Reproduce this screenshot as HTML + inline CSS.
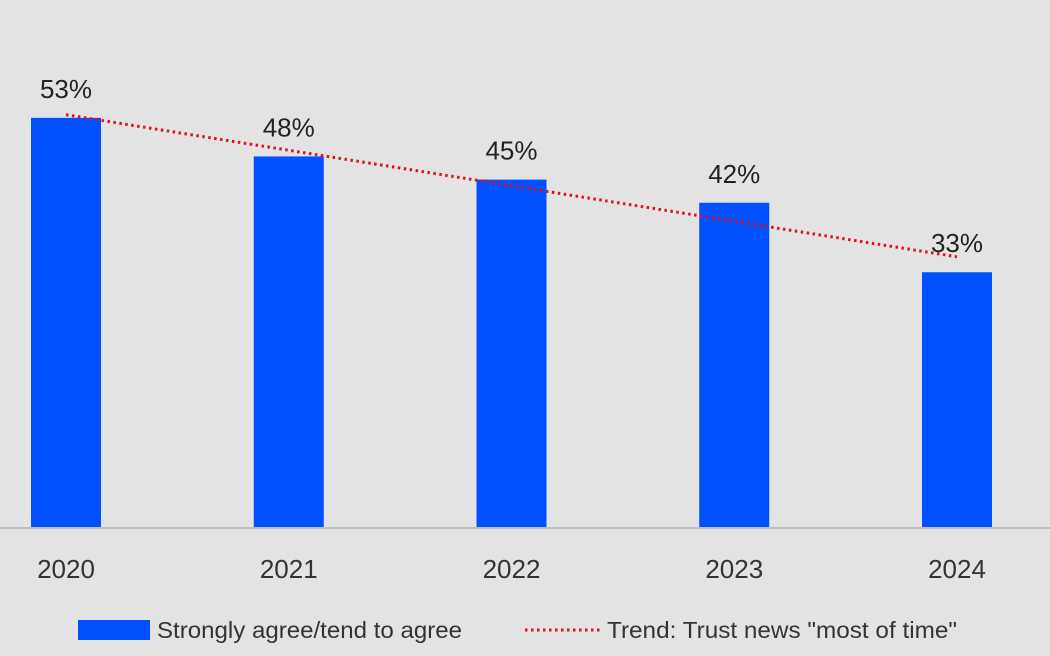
<!DOCTYPE html>
<html><head><meta charset="utf-8"><style>
html,body{margin:0;padding:0;background:#e3e3e3;}
svg{display:block;font-family:"Liberation Sans",sans-serif;}
</style></head><body>
<svg id="chart" width="1050" height="656" viewBox="0 0 1050 656">
<rect width="1050" height="656" fill="#e3e3e3"/>
<line x1="0" y1="528" x2="1050" y2="528" stroke="#bdbdbd" stroke-width="2"/>
<g id="bars"></g><g id="labels"></g><g id="ticks"></g>
<polyline id="trend" fill="none" stroke="#e0101a" stroke-width="3" stroke-dasharray="2.5,3.5"/>
<g>
<rect x="78" y="620" width="72" height="20" fill="#0050ff"/>
<text x="157" y="638" font-size="23" fill="#333" textLength="305" lengthAdjust="spacingAndGlyphs">Strongly agree/tend to agree</text>
<line x1="525" y1="630" x2="600" y2="630" stroke="#e0101a" stroke-width="3" stroke-dasharray="2.5,3.5"/>
<text x="607" y="638" font-size="23" fill="#333" textLength="350" lengthAdjust="spacingAndGlyphs">Trend: Trust news "most of time"</text>
</g>
</svg>
<script>
const categories=["2020","2021","2022","2023","2024"];
const agreeValues=[53,48,45,42,33];
const trendValues=[53.4,48.8,44.2,39.6,35];
const valueLabels=["53%","48%","45%","42%","33%"];
const ns="http://www.w3.org/2000/svg";
const base=527,scale=7.72,x0=66,step=222.75,bw=70;
const xs=i=>x0+i*step, ys=v=>base-v*scale;
const bars=document.getElementById('bars'),labels=document.getElementById('labels'),ticks=document.getElementById('ticks');
const pts=[];
categories.forEach((c,i)=>{
 const r=document.createElementNS(ns,'rect');
 r.setAttribute('x',xs(i)-bw/2);r.setAttribute('y',ys(agreeValues[i]));
 r.setAttribute('width',bw);r.setAttribute('height',agreeValues[i]*scale);r.setAttribute('fill','#0050ff');
 
 
 bars.appendChild(r);
 const t=document.createElementNS(ns,'text');
 t.setAttribute('x',xs(i));t.setAttribute('y',ys(agreeValues[i])-20);t.setAttribute('text-anchor','middle');
 t.setAttribute('font-size','26');t.setAttribute('fill','#222');t.textContent=valueLabels[i];
 
 
 labels.appendChild(t);
 const k=document.createElementNS(ns,'text');
 k.setAttribute('x',xs(i));k.setAttribute('y',578);k.setAttribute('text-anchor','middle');
 k.setAttribute('font-size','26');k.setAttribute('fill','#333');k.textContent=c;
 
 
 ticks.appendChild(k);
 pts.push(xs(i)+','+ys(trendValues[i]));
});
document.getElementById('trend').setAttribute('points',pts.join(' '));
</script>
</body></html>
